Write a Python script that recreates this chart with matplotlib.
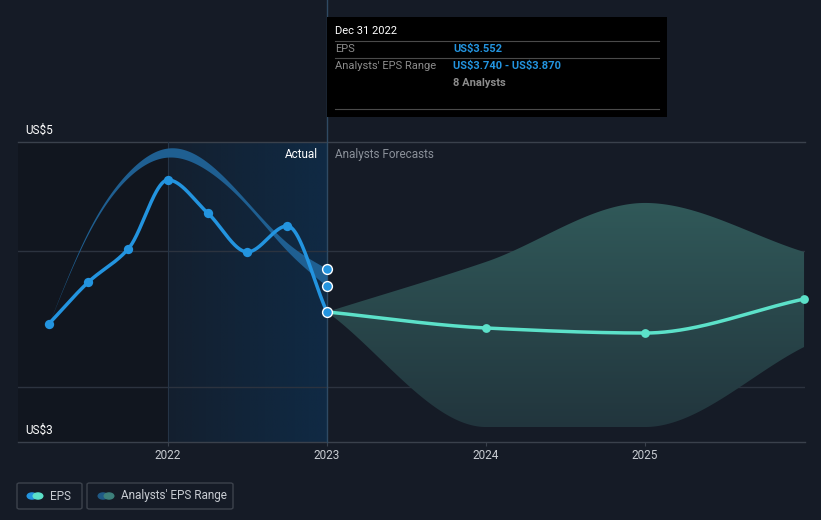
import numpy as np
import matplotlib
matplotlib.use("Agg")
import matplotlib.pyplot as plt
from matplotlib.patches import FancyBboxPatch, Circle, Polygon
from matplotlib.colors import to_rgb

plt.rcParams['font.family'] = ['Roboto', 'DejaVu Sans']
plt.rcParams['text.parse_math'] = False

# EPS history (quarter ends)
eps_x = [2021.25, 2021.5, 2021.75, 2022.0, 2022.25, 2022.5, 2022.75, 2023.0]
eps_y = [3.463, 3.772, 4.015, 4.522, 4.279, 3.993, 4.184, 3.552]

# past analyst range
rng_x = [2021.25, 2021.5, 2021.75, 2022.0, 2022.25, 2022.5, 2022.75, 2023.0]
rng_hi = [3.463, 4.15, 4.58, 4.757, 4.65, 4.36, 4.06, 3.87]
rng_lo = [3.463, 4.13, 4.54, 4.69, 4.59, 4.33, 4.00, 3.74]

# forecasts
fc_x = [2023.0, 2024.0, 2025.0, 2026.0]
fc_y = [3.552, 3.434, 3.397, 3.647]
fc_hi = [3.552, 3.92, 4.353, 3.993]
fc_lo = [3.552, 2.706, 2.706, 3.294]

years = [2022, 2023, 2024, 2025]

BG = '#151b26'
BLUE = '#2394df'
MINT = '#5ce1c9'


def monotone(x, y, n=200):
    # monotone cubic (Fritsch-Carlson) for a smooth line through the points
    x = np.asarray(x, float)
    y = np.asarray(y, float)
    h = np.diff(x)
    d = np.diff(y) / h
    m = np.zeros_like(y)
    m[0], m[-1] = d[0], d[-1]
    for i in range(1, len(y) - 1):
        if d[i - 1] * d[i] <= 0:
            m[i] = 0
        else:
            w1 = 2 * h[i] + h[i - 1]
            w2 = h[i] + 2 * h[i - 1]
            m[i] = (w1 + w2) / (w1 / d[i - 1] + w2 / d[i])
    return hermite(x, y, m, n)


def natural(x, y, n=200):
    # natural cubic spline, smoother for the range band
    x = np.asarray(x, float)
    y = np.asarray(y, float)
    k = len(x)
    h = np.diff(x)
    A = np.zeros((k, k))
    b = np.zeros(k)
    A[0, 0] = A[-1, -1] = 1
    for i in range(1, k - 1):
        A[i, i - 1] = h[i - 1]
        A[i, i] = 2 * (h[i - 1] + h[i])
        A[i, i + 1] = h[i]
        b[i] = 6 * ((y[i + 1] - y[i]) / h[i] - (y[i] - y[i - 1]) / h[i - 1])
    M = np.linalg.solve(A, b)
    m = np.zeros(k)
    for i in range(k - 1):
        m[i] = (y[i + 1] - y[i]) / h[i] - h[i] * (2 * M[i] + M[i + 1]) / 6
    m[-1] = (y[-1] - y[-2]) / h[-1] + h[-1] * (M[-2] + 2 * M[-1]) / 6
    return hermite(x, y, m, n)


def hermite(x, y, m, n):
    h = np.diff(x)
    xs, ys = [], []
    for i in range(len(x) - 1):
        t = np.linspace(0, 1, n, endpoint=(i == len(x) - 2))
        h00 = 2 * t**3 - 3 * t**2 + 1
        h10 = t**3 - 2 * t**2 + t
        h01 = -2 * t**3 + 3 * t**2
        h11 = t**3 - t**2
        xs.append(x[i] + t * h[i])
        ys.append(h00 * y[i] + h10 * h[i] * m[i] + h01 * y[i + 1] + h11 * h[i] * m[i + 1])
    return np.concatenate(xs), np.concatenate(ys)


def fx_(px):
    return px / 821


def fy_(py):
    return 1 - py / 520


fig = plt.figure(figsize=(8.21, 5.2), dpi=100, facecolor=BG)
ax = fig.add_axes([18 / 821, 1 - 442 / 520, 787 / 821, 300 / 520])
ax.set_facecolor(BG)
x0, x1 = 2021.057, 2026.006
y0, y1 = 2.596, 4.801
ax.set_xlim(x0, x1)
ax.set_ylim(y0, y1)
for s in ax.spines.values():
    s.set_visible(False)

# darker area left of 2022, lit "actual" area 2022-2023
ax.axvspan(x0, 2022.0, color='#11161f', zorder=0)
grad = np.zeros((2, 256, 4))
c = to_rgb('#0f2d4a')
grad[..., 0], grad[..., 1], grad[..., 2] = c
grad[..., 3] = np.linspace(0.25, 0.85, 256)[None, :]
ax.imshow(grad, extent=[2022.0, 2023.0, y0, y1], aspect='auto', zorder=0.5,
          interpolation='bilinear')

# grid
for gy in [3.0, 4.0]:
    ax.axhline(gy, color='#2c333f', lw=1, zorder=1)
ax.axhline(y1, color='#3a414c', lw=1, zorder=1, clip_on=False)
ax.axhline(y0, color='#3a414c', lw=1, zorder=1, clip_on=False)
ax.axvline(2022.0, color='#253446', lw=0.8, zorder=1)

# forecast band with vertical gradient
ux, uy = monotone(fc_x, fc_hi)
lx, ly = monotone(fc_x, fc_lo)
poly = Polygon(np.column_stack([np.r_[ux, lx[::-1]], np.r_[uy, ly[::-1]]]),
               closed=True, facecolor='none', edgecolor='none')
ax.add_patch(poly)
g2 = np.zeros((256, 2, 4))
top = np.array(to_rgb('#315a5a'))
bot = np.array(to_rgb('#21343c'))
tt = np.linspace(0, 1, 256)[:, None]
g2[..., :3] = (top * (1 - tt) + bot * tt)[:, None, :]
g2[..., 3] = 1
im = ax.imshow(g2, extent=[2023.0, x1, 2.65, 4.40], aspect='auto', zorder=2,
               interpolation='bilinear')
im.set_clip_path(poly)

# past analyst range band
rx, rh = natural(rng_x, rng_hi)
_, rl = natural(rng_x, rng_lo)
ax.fill_between(rx, rl, rh, color='#1f5f91', lw=0, zorder=3)

# cursor line at 2023 (extends up to the tooltip)
ax.plot([2023.0, 2023.0], [y0, y1 + 1.12], color='#2f4a63', lw=1, zorder=2.5,
        clip_on=False)

# forecast line
fx, fy = monotone(fc_x, fc_y)
ax.plot(fx, fy, color=MINT, lw=2.5, zorder=4, solid_capstyle='round')
ax.scatter(fc_x[1:], fc_y[1:], s=40, color=MINT, zorder=5, lw=0, clip_on=False)

# EPS line
ex, ey = monotone(eps_x, eps_y)
ax.plot(ex, ey, color=BLUE, lw=2.5, zorder=6, solid_capstyle='round')
ax.scatter(eps_x[:-1], eps_y[:-1], s=45, color=BLUE, zorder=7, lw=0)
ax.scatter([2023.0] * 3, [eps_y[-1], rng_lo[-1], rng_hi[-1]], s=50, color=BLUE,
           edgecolor='white', lw=1.0, zorder=8)

# ticks
ax.set_xticks(years)
ax.set_xticklabels([str(y) for y in years], color='#c8ccd2', fontsize=8.5)
ax.tick_params(axis='x', length=3, color='#3a414c', pad=2)
ax.set_yticks([])

ax.text(2023.0 - 0.055, 4.71, 'Actual', color='white', fontsize=8.5,
        ha='right', va='center', zorder=9)
ax.text(2023.0 + 0.05, 4.71, 'Analysts Forecasts', color='#8a9099', fontsize=8.5,
        ha='left', va='center', zorder=9)

# y labels
fig.text(fx_(25), fy_(130), 'US$5', color='white', fontsize=8.5, va='center')
fig.text(fx_(25), fy_(430), 'US$3', color='white', fontsize=8.5, va='center')

# tooltip
fig.patches.append(FancyBboxPatch((fx_(327), fy_(117)), fx_(667) - fx_(327),
                                  fy_(17) - fy_(117), boxstyle='square,pad=0',
                                  transform=fig.transFigure, facecolor='black',
                                  edgecolor='none', zorder=10))
for ly_ in [41, 58, 109]:
    fig.lines.append(plt.Line2D([fx_(335), fx_(659)], [fy_(ly_), fy_(ly_)],
                                transform=fig.transFigure, color='#4a4a4a',
                                lw=0.8, zorder=11))
fig.text(fx_(335), fy_(31), 'Dec 31 2022', color='white', fontsize=8,
         va='center', zorder=12)
fig.text(fx_(335), fy_(49), 'EPS', color='#8c8c8c', fontsize=8, va='center', zorder=12)
fig.text(fx_(453), fy_(49), 'US$3.552', color=BLUE, fontsize=8, va='center',
         fontweight='bold', zorder=12)
fig.text(fx_(335), fy_(66), "Analysts' EPS Range", color='#8c8c8c', fontsize=8,
         va='center', zorder=12)
fig.text(fx_(453), fy_(66), 'US$3.740 - US$3.870', color=BLUE, fontsize=8,
         va='center', fontweight='bold', zorder=12)
fig.text(fx_(453), fy_(83), '8 Analysts', color='#8c8c8c', fontsize=8,
         va='center', fontweight='bold', zorder=12)

# legend
legend = [(17, 82, 'EPS', BLUE, MINT, 32, 50),
          (87, 233, "Analysts' EPS Range", '#1f5a86', '#3d807b', 103, 121)]
for (l, r, label, c1, c2, cx, tx) in legend:
    fig.patches.append(FancyBboxPatch((fx_(l), fy_(509)), fx_(r) - fx_(l),
                                      fy_(483) - fy_(509),
                                      boxstyle='round,pad=0,rounding_size=0.003',
                                      transform=fig.transFigure, facecolor='none',
                                      edgecolor='#3c424c', lw=1))
    fig.patches.append(Circle((fx_(cx), fy_(496)), 4.8 / 821,
                              transform=fig.transFigure, color=c1, zorder=2))
    fig.patches.append(Circle((fx_(cx + 6), fy_(496)), 4.8 / 821,
                              transform=fig.transFigure, color=c2, zorder=3))
    fig.text(fx_(tx), fy_(496), label, color='#c8ccd2', fontsize=8.5, va='center')

fig.savefig('out.png', dpi=100, facecolor=BG)
